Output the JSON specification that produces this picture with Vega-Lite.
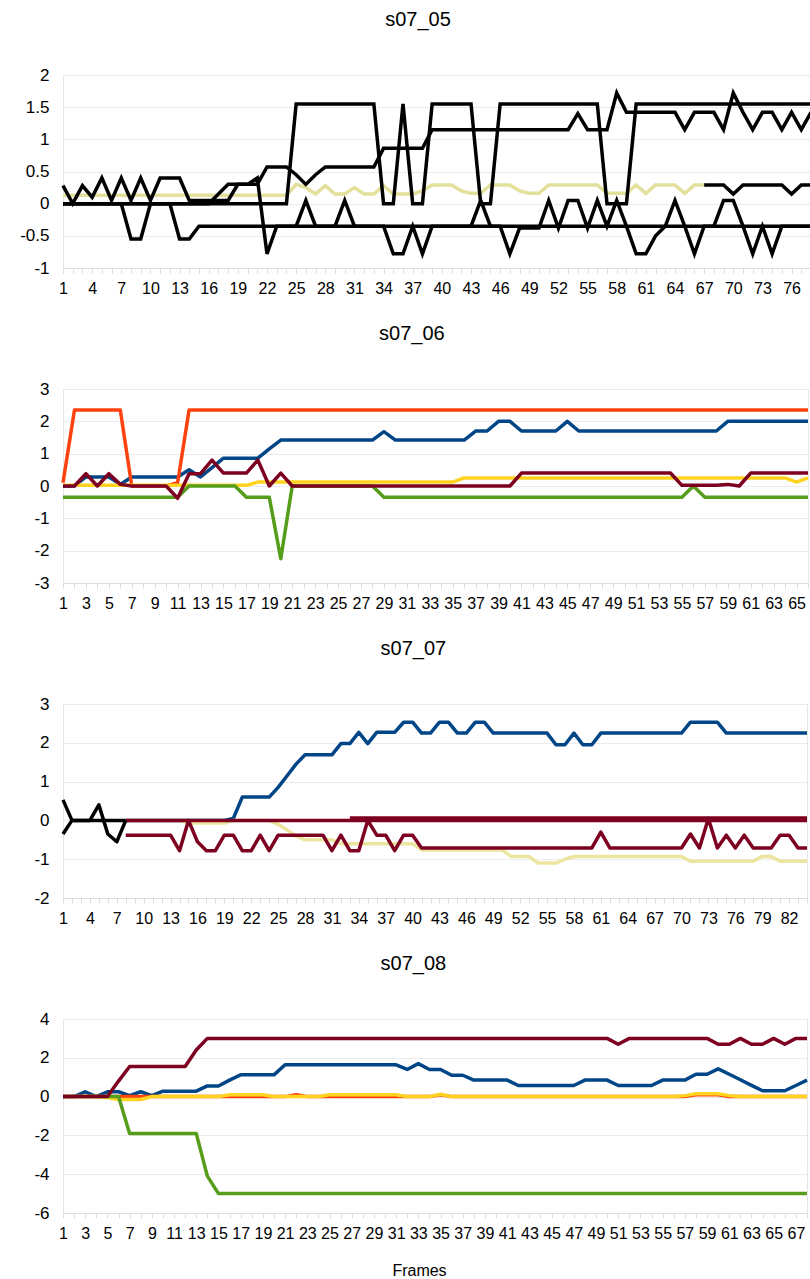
{
  "$schema": "https://vega.github.io/schema/vega-lite/v6.json",
  "background": "white",
  "padding": {"left": 13, "top": 9, "right": 2, "bottom": 4},
  "spacing": 26,
  "resolve": {"scale": {"x": "independent", "y": "independent", "color": "independent"}},
  "config": {
    "font": "Liberation Sans",
    "view": {"stroke": "#e6e6e6"},
    "title": {"fontSize": 20, "fontWeight": "normal", "color": "#000000", "offset": 36, "frame": "bounds", "anchor": "middle"},
    "axisX": {"grid": false, "tickSize": 5, "tickColor": "#dddddd", "domainColor": "#dddddd", "labelFontSize": 16, "labelPadding": 7, "labelOverlap": false, "labelFlush": false, "labelBound": false, "labelColor": "#000000"},
    "axisY": {"grid": true, "gridColor": "#ebebeb", "ticks": false, "domain": false, "labelFontSize": 17, "labelPadding": 14, "labelColor": "#000000", "minExtent": 45, "maxExtent": 45, "title": null}
  },
  "datasets": {
    "p1": [
      {"f":1,"a":0,"b":0,"c":0.28,"d":0,"y":0.13,"k":null},
      {"f":2,"a":0,"b":0,"c":0,"d":0,"y":0.13,"k":null},
      {"f":3,"a":0,"b":0,"c":0.28,"d":0,"y":0.13,"k":null},
      {"f":4,"a":0,"b":0,"c":0.1,"d":0,"y":0.13,"k":null},
      {"f":5,"a":0,"b":0,"c":0.4,"d":0,"y":0.13,"k":null},
      {"f":6,"a":0,"b":0,"c":0.05,"d":0,"y":0.13,"k":null},
      {"f":7,"a":0,"b":0,"c":0.4,"d":0,"y":0.13,"k":null},
      {"f":8,"a":0,"b":0,"c":0.05,"d":-0.55,"y":0.13,"k":null},
      {"f":9,"a":0,"b":0,"c":0.4,"d":-0.55,"y":0.13,"k":null},
      {"f":10,"a":0,"b":0,"c":0.05,"d":0,"y":0.13,"k":null},
      {"f":11,"a":0,"b":0,"c":0.4,"d":0,"y":0.13,"k":null},
      {"f":12,"a":0,"b":0,"c":0.4,"d":0,"y":0.13,"k":null},
      {"f":13,"a":0,"b":0,"c":0.4,"d":-0.55,"y":0.13,"k":null},
      {"f":14,"a":0,"b":0,"c":0.05,"d":-0.55,"y":0.13,"k":null},
      {"f":15,"a":0,"b":0,"c":0.05,"d":-0.35,"y":0.13,"k":null},
      {"f":16,"a":0,"b":0,"c":0.05,"d":-0.35,"y":0.13,"k":null},
      {"f":17,"a":0,"b":0.15,"c":0.05,"d":-0.35,"y":0.13,"k":null},
      {"f":18,"a":0,"b":0.3,"c":0.05,"d":-0.35,"y":0.13,"k":null},
      {"f":19,"a":0,"b":0.3,"c":0.3,"d":-0.35,"y":0.13,"k":null},
      {"f":20,"a":0,"b":0.3,"c":0.3,"d":-0.35,"y":0.13,"k":null},
      {"f":21,"a":0,"b":0.3,"c":0.4,"d":-0.35,"y":0.13,"k":null},
      {"f":22,"a":0,"b":0.57,"c":-0.78,"d":-0.35,"y":0.13,"k":null},
      {"f":23,"a":0,"b":0.57,"c":-0.35,"d":-0.35,"y":0.13,"k":null},
      {"f":24,"a":0,"b":0.57,"c":-0.35,"d":-0.35,"y":0.13,"k":null},
      {"f":25,"a":1.55,"b":0.45,"c":-0.35,"d":-0.35,"y":0.3,"k":null},
      {"f":26,"a":1.55,"b":0.3,"c":0.05,"d":-0.35,"y":0.25,"k":null},
      {"f":27,"a":1.55,"b":0.45,"c":-0.35,"d":-0.35,"y":0.15,"k":null},
      {"f":28,"a":1.55,"b":0.57,"c":-0.35,"d":-0.35,"y":0.28,"k":null},
      {"f":29,"a":1.55,"b":0.57,"c":-0.35,"d":-0.35,"y":0.15,"k":null},
      {"f":30,"a":1.55,"b":0.57,"c":0.05,"d":-0.35,"y":0.15,"k":null},
      {"f":31,"a":1.55,"b":0.57,"c":-0.35,"d":-0.35,"y":0.25,"k":null},
      {"f":32,"a":1.55,"b":0.57,"c":-0.35,"d":-0.35,"y":0.15,"k":null},
      {"f":33,"a":1.55,"b":0.57,"c":-0.35,"d":-0.35,"y":0.15,"k":null},
      {"f":34,"a":0,"b":0.86,"c":-0.35,"d":-0.35,"y":0.28,"k":null},
      {"f":35,"a":0,"b":0.86,"c":-0.78,"d":-0.35,"y":0.15,"k":null},
      {"f":36,"a":1.55,"b":0.86,"c":-0.78,"d":-0.35,"y":0.15,"k":null},
      {"f":37,"a":0,"b":0.86,"c":-0.35,"d":-0.35,"y":0.15,"k":null},
      {"f":38,"a":0,"b":0.86,"c":-0.78,"d":-0.35,"y":0.2,"k":null},
      {"f":39,"a":1.55,"b":1.15,"c":-0.35,"d":-0.35,"y":0.29,"k":null},
      {"f":40,"a":1.55,"b":1.15,"c":-0.35,"d":-0.35,"y":0.29,"k":null},
      {"f":41,"a":1.55,"b":1.15,"c":-0.35,"d":-0.35,"y":0.29,"k":null},
      {"f":42,"a":1.55,"b":1.15,"c":-0.35,"d":-0.35,"y":0.2,"k":null},
      {"f":43,"a":1.55,"b":1.15,"c":-0.35,"d":-0.35,"y":0.16,"k":null},
      {"f":44,"a":0,"b":1.15,"c":0.05,"d":-0.35,"y":0.16,"k":null},
      {"f":45,"a":0,"b":1.15,"c":-0.35,"d":-0.35,"y":0.29,"k":null},
      {"f":46,"a":1.55,"b":1.15,"c":-0.35,"d":-0.35,"y":0.29,"k":null},
      {"f":47,"a":1.55,"b":1.15,"c":-0.78,"d":-0.35,"y":0.29,"k":null},
      {"f":48,"a":1.55,"b":1.15,"c":-0.38,"d":-0.35,"y":0.2,"k":null},
      {"f":49,"a":1.55,"b":1.15,"c":-0.38,"d":-0.35,"y":0.16,"k":null},
      {"f":50,"a":1.55,"b":1.15,"c":-0.38,"d":-0.35,"y":0.16,"k":null},
      {"f":51,"a":1.55,"b":1.15,"c":0.05,"d":-0.35,"y":0.29,"k":null},
      {"f":52,"a":1.55,"b":1.15,"c":-0.38,"d":-0.35,"y":0.29,"k":null},
      {"f":53,"a":1.55,"b":1.15,"c":0.05,"d":-0.35,"y":0.29,"k":null},
      {"f":54,"a":1.55,"b":1.4,"c":0.05,"d":-0.35,"y":0.29,"k":null},
      {"f":55,"a":1.55,"b":1.15,"c":-0.38,"d":-0.35,"y":0.29,"k":null},
      {"f":56,"a":1.55,"b":1.15,"c":0.05,"d":-0.35,"y":0.29,"k":null},
      {"f":57,"a":0,"b":1.15,"c":-0.35,"d":-0.35,"y":0.16,"k":null},
      {"f":58,"a":0,"b":1.72,"c":0.05,"d":-0.35,"y":0.16,"k":null},
      {"f":59,"a":0,"b":1.42,"c":-0.35,"d":-0.35,"y":0.16,"k":null},
      {"f":60,"a":1.55,"b":1.42,"c":-0.78,"d":-0.35,"y":0.29,"k":null},
      {"f":61,"a":1.55,"b":1.42,"c":-0.78,"d":-0.35,"y":0.16,"k":null},
      {"f":62,"a":1.55,"b":1.42,"c":-0.5,"d":-0.35,"y":0.29,"k":null},
      {"f":63,"a":1.55,"b":1.42,"c":-0.35,"d":-0.35,"y":0.29,"k":null},
      {"f":64,"a":1.55,"b":1.42,"c":0.05,"d":-0.35,"y":0.29,"k":null},
      {"f":65,"a":1.55,"b":1.15,"c":-0.35,"d":-0.35,"y":0.16,"k":null},
      {"f":66,"a":1.55,"b":1.42,"c":-0.78,"d":-0.35,"y":0.29,"k":null},
      {"f":67,"a":1.55,"b":1.42,"c":-0.35,"d":-0.35,"y":0.29,"k":0.29},
      {"f":68,"a":1.55,"b":1.42,"c":-0.35,"d":-0.35,"y":null,"k":0.29},
      {"f":69,"a":1.55,"b":1.15,"c":0.05,"d":-0.35,"y":null,"k":0.29},
      {"f":70,"a":1.55,"b":1.72,"c":0.05,"d":-0.35,"y":null,"k":0.15},
      {"f":71,"a":1.55,"b":1.42,"c":-0.35,"d":-0.35,"y":null,"k":0.29},
      {"f":72,"a":1.55,"b":1.15,"c":-0.78,"d":-0.35,"y":null,"k":0.29},
      {"f":73,"a":1.55,"b":1.42,"c":-0.35,"d":-0.35,"y":null,"k":0.29},
      {"f":74,"a":1.55,"b":1.42,"c":-0.78,"d":-0.35,"y":null,"k":0.29},
      {"f":75,"a":1.55,"b":1.15,"c":-0.35,"d":-0.35,"y":null,"k":0.29},
      {"f":76,"a":1.55,"b":1.42,"c":-0.35,"d":-0.35,"y":null,"k":0.15},
      {"f":77,"a":1.55,"b":1.15,"c":-0.35,"d":-0.35,"y":null,"k":0.29},
      {"f":78,"a":1.55,"b":1.42,"c":-0.35,"d":-0.35,"y":null,"k":0.29}
    ],
    "p2": [
      {"f":1,"a":0,"b":0.1,"c":0.02,"d":-0.35,"e":0},
      {"f":2,"a":0,"b":2.35,"c":0.02,"d":-0.35,"e":0},
      {"f":3,"a":0.28,"b":2.35,"c":0.02,"d":-0.35,"e":0.38},
      {"f":4,"a":0.28,"b":2.35,"c":0.02,"d":-0.35,"e":0},
      {"f":5,"a":0.28,"b":2.35,"c":0.02,"d":-0.35,"e":0.38},
      {"f":6,"a":0.05,"b":2.35,"c":0.02,"d":-0.35,"e":0.05},
      {"f":7,"a":0.28,"b":0,"c":0.02,"d":-0.35,"e":0},
      {"f":8,"a":0.28,"b":0,"c":0.02,"d":-0.35,"e":0},
      {"f":9,"a":0.28,"b":0,"c":0.02,"d":-0.35,"e":0},
      {"f":10,"a":0.28,"b":0,"c":0.02,"d":-0.35,"e":0},
      {"f":11,"a":0.28,"b":0.1,"c":0.02,"d":-0.35,"e":-0.38},
      {"f":12,"a":0.5,"b":2.35,"c":0.02,"d":0,"e":0.38},
      {"f":13,"a":0.28,"b":2.35,"c":0.02,"d":0,"e":0.38},
      {"f":14,"a":0.57,"b":2.35,"c":0.02,"d":0,"e":0.8},
      {"f":15,"a":0.86,"b":2.35,"c":0.02,"d":0,"e":0.4},
      {"f":16,"a":0.86,"b":2.35,"c":0.02,"d":0,"e":0.4},
      {"f":17,"a":0.86,"b":2.35,"c":0.02,"d":-0.35,"e":0.4},
      {"f":18,"a":0.86,"b":2.35,"c":0.12,"d":-0.35,"e":0.8},
      {"f":19,"a":1.15,"b":2.35,"c":0.12,"d":-0.35,"e":0},
      {"f":20,"a":1.42,"b":2.35,"c":0.12,"d":-2.25,"e":0.4},
      {"f":21,"a":1.42,"b":2.35,"c":0.12,"d":0,"e":0},
      {"f":22,"a":1.42,"b":2.35,"c":0.12,"d":0,"e":0},
      {"f":23,"a":1.42,"b":2.35,"c":0.12,"d":0,"e":0},
      {"f":24,"a":1.42,"b":2.35,"c":0.12,"d":0,"e":0},
      {"f":25,"a":1.42,"b":2.35,"c":0.12,"d":0,"e":0},
      {"f":26,"a":1.42,"b":2.35,"c":0.12,"d":0,"e":0},
      {"f":27,"a":1.42,"b":2.35,"c":0.12,"d":0,"e":0},
      {"f":28,"a":1.42,"b":2.35,"c":0.12,"d":0,"e":0},
      {"f":29,"a":1.68,"b":2.35,"c":0.12,"d":-0.35,"e":0},
      {"f":30,"a":1.42,"b":2.35,"c":0.12,"d":-0.35,"e":0},
      {"f":31,"a":1.42,"b":2.35,"c":0.12,"d":-0.35,"e":0},
      {"f":32,"a":1.42,"b":2.35,"c":0.12,"d":-0.35,"e":0},
      {"f":33,"a":1.42,"b":2.35,"c":0.12,"d":-0.35,"e":0},
      {"f":34,"a":1.42,"b":2.35,"c":0.12,"d":-0.35,"e":0},
      {"f":35,"a":1.42,"b":2.35,"c":0.12,"d":-0.35,"e":0},
      {"f":36,"a":1.42,"b":2.35,"c":0.25,"d":-0.35,"e":0},
      {"f":37,"a":1.7,"b":2.35,"c":0.25,"d":-0.35,"e":0},
      {"f":38,"a":1.7,"b":2.35,"c":0.25,"d":-0.35,"e":0},
      {"f":39,"a":2.0,"b":2.35,"c":0.25,"d":-0.35,"e":0},
      {"f":40,"a":2.0,"b":2.35,"c":0.25,"d":-0.35,"e":0},
      {"f":41,"a":1.7,"b":2.35,"c":0.25,"d":-0.35,"e":0.4},
      {"f":42,"a":1.7,"b":2.35,"c":0.25,"d":-0.35,"e":0.4},
      {"f":43,"a":1.7,"b":2.35,"c":0.25,"d":-0.35,"e":0.4},
      {"f":44,"a":1.7,"b":2.35,"c":0.25,"d":-0.35,"e":0.4},
      {"f":45,"a":2.0,"b":2.35,"c":0.25,"d":-0.35,"e":0.4},
      {"f":46,"a":1.7,"b":2.35,"c":0.25,"d":-0.35,"e":0.4},
      {"f":47,"a":1.7,"b":2.35,"c":0.25,"d":-0.35,"e":0.4},
      {"f":48,"a":1.7,"b":2.35,"c":0.25,"d":-0.35,"e":0.4},
      {"f":49,"a":1.7,"b":2.35,"c":0.25,"d":-0.35,"e":0.4},
      {"f":50,"a":1.7,"b":2.35,"c":0.25,"d":-0.35,"e":0.4},
      {"f":51,"a":1.7,"b":2.35,"c":0.25,"d":-0.35,"e":0.4},
      {"f":52,"a":1.7,"b":2.35,"c":0.25,"d":-0.35,"e":0.4},
      {"f":53,"a":1.7,"b":2.35,"c":0.25,"d":-0.35,"e":0.4},
      {"f":54,"a":1.7,"b":2.35,"c":0.25,"d":-0.35,"e":0.4},
      {"f":55,"a":1.7,"b":2.35,"c":0.25,"d":-0.35,"e":0.02},
      {"f":56,"a":1.7,"b":2.35,"c":0.25,"d":0,"e":0.02},
      {"f":57,"a":1.7,"b":2.35,"c":0.25,"d":-0.35,"e":0.02},
      {"f":58,"a":1.7,"b":2.35,"c":0.25,"d":-0.35,"e":0.02},
      {"f":59,"a":2.0,"b":2.35,"c":0.25,"d":-0.35,"e":0.05},
      {"f":60,"a":2.0,"b":2.35,"c":0.25,"d":-0.35,"e":0},
      {"f":61,"a":2.0,"b":2.35,"c":0.25,"d":-0.35,"e":0.4},
      {"f":62,"a":2.0,"b":2.35,"c":0.25,"d":-0.35,"e":0.4},
      {"f":63,"a":2.0,"b":2.35,"c":0.25,"d":-0.35,"e":0.4},
      {"f":64,"a":2.0,"b":2.35,"c":0.25,"d":-0.35,"e":0.4},
      {"f":65,"a":2.0,"b":2.35,"c":0.12,"d":-0.35,"e":0.4},
      {"f":66,"a":2.0,"b":2.35,"c":0.25,"d":-0.35,"e":0.4}
    ],
    "p3": [
      {"f":1,"k1":0.53,"k2":-0.35,"a":null,"c":null,"e":null,"g":null,"h":null},
      {"f":2,"k1":0,"k2":0,"a":null,"c":null,"e":null,"g":null,"h":null},
      {"f":3,"k1":0,"k2":0,"a":null,"c":null,"e":null,"g":null,"h":null},
      {"f":4,"k1":0,"k2":0,"a":null,"c":null,"e":null,"g":null,"h":null},
      {"f":5,"k1":0.4,"k2":0,"a":null,"c":null,"e":null,"g":null,"h":null},
      {"f":6,"k1":-0.35,"k2":0,"a":null,"c":null,"e":null,"g":null,"h":null},
      {"f":7,"k1":-0.55,"k2":0,"a":null,"c":null,"e":null,"g":null,"h":null},
      {"f":8,"k1":0,"k2":0,"a":0,"c":0,"e":0,"g":null,"h":-0.38},
      {"f":9,"k1":null,"k2":null,"a":0,"c":0,"e":0,"g":null,"h":-0.38},
      {"f":10,"k1":null,"k2":null,"a":0,"c":0,"e":0,"g":null,"h":-0.38},
      {"f":11,"k1":null,"k2":null,"a":0,"c":0,"e":0,"g":null,"h":-0.38},
      {"f":12,"k1":null,"k2":null,"a":0,"c":0,"e":0,"g":null,"h":-0.38},
      {"f":13,"k1":null,"k2":null,"a":0,"c":0,"e":0,"g":null,"h":-0.38},
      {"f":14,"k1":null,"k2":null,"a":0,"c":0,"e":0,"g":null,"h":-0.78},
      {"f":15,"k1":null,"k2":null,"a":0,"c":-0.07,"e":0,"g":null,"h":0},
      {"f":16,"k1":null,"k2":null,"a":0,"c":-0.07,"e":0,"g":null,"h":-0.55},
      {"f":17,"k1":null,"k2":null,"a":0,"c":-0.07,"e":0,"g":null,"h":-0.78},
      {"f":18,"k1":null,"k2":null,"a":0,"c":-0.07,"e":0,"g":null,"h":-0.78},
      {"f":19,"k1":null,"k2":null,"a":0,"c":-0.07,"e":0,"g":null,"h":-0.38},
      {"f":20,"k1":null,"k2":null,"a":0.05,"c":0,"e":0,"g":null,"h":-0.38},
      {"f":21,"k1":null,"k2":null,"a":0.6,"c":0,"e":0,"g":null,"h":-0.78},
      {"f":22,"k1":null,"k2":null,"a":0.6,"c":0,"e":0,"g":null,"h":-0.78},
      {"f":23,"k1":null,"k2":null,"a":0.6,"c":0,"e":0,"g":null,"h":-0.38},
      {"f":24,"k1":null,"k2":null,"a":0.6,"c":0,"e":0,"g":null,"h":-0.78},
      {"f":25,"k1":null,"k2":null,"a":0.85,"c":-0.1,"e":0,"g":null,"h":-0.38},
      {"f":26,"k1":null,"k2":null,"a":1.15,"c":-0.25,"e":0,"g":null,"h":-0.38},
      {"f":27,"k1":null,"k2":null,"a":1.45,"c":-0.4,"e":0,"g":null,"h":-0.38},
      {"f":28,"k1":null,"k2":null,"a":1.69,"c":-0.5,"e":0,"g":null,"h":-0.38},
      {"f":29,"k1":null,"k2":null,"a":1.69,"c":-0.5,"e":0,"g":null,"h":-0.38},
      {"f":30,"k1":null,"k2":null,"a":1.69,"c":-0.5,"e":0,"g":null,"h":-0.38},
      {"f":31,"k1":null,"k2":null,"a":1.69,"c":-0.5,"e":0,"g":null,"h":-0.78},
      {"f":32,"k1":null,"k2":null,"a":1.98,"c":-0.6,"e":0,"g":null,"h":-0.38},
      {"f":33,"k1":null,"k2":null,"a":1.98,"c":-0.6,"e":0,"g":0.06,"h":-0.78},
      {"f":34,"k1":null,"k2":null,"a":2.27,"c":-0.6,"e":0,"g":0.06,"h":-0.78},
      {"f":35,"k1":null,"k2":null,"a":1.98,"c":-0.6,"e":0,"g":0.06,"h":0},
      {"f":36,"k1":null,"k2":null,"a":2.27,"c":-0.6,"e":0,"g":0.06,"h":-0.38},
      {"f":37,"k1":null,"k2":null,"a":2.27,"c":-0.6,"e":0,"g":0.06,"h":-0.38},
      {"f":38,"k1":null,"k2":null,"a":2.27,"c":-0.6,"e":0,"g":0.06,"h":-0.78},
      {"f":39,"k1":null,"k2":null,"a":2.53,"c":-0.6,"e":0,"g":0.06,"h":-0.38},
      {"f":40,"k1":null,"k2":null,"a":2.53,"c":-0.6,"e":0,"g":0.06,"h":-0.38},
      {"f":41,"k1":null,"k2":null,"a":2.25,"c":-0.76,"e":0,"g":0.06,"h":-0.71},
      {"f":42,"k1":null,"k2":null,"a":2.25,"c":-0.76,"e":0,"g":0.06,"h":-0.71},
      {"f":43,"k1":null,"k2":null,"a":2.53,"c":-0.76,"e":0,"g":0.06,"h":-0.71},
      {"f":44,"k1":null,"k2":null,"a":2.53,"c":-0.76,"e":0,"g":0.06,"h":-0.71},
      {"f":45,"k1":null,"k2":null,"a":2.25,"c":-0.76,"e":0,"g":0.06,"h":-0.71},
      {"f":46,"k1":null,"k2":null,"a":2.25,"c":-0.76,"e":0,"g":0.06,"h":-0.71},
      {"f":47,"k1":null,"k2":null,"a":2.53,"c":-0.76,"e":0,"g":0.06,"h":-0.71},
      {"f":48,"k1":null,"k2":null,"a":2.53,"c":-0.76,"e":0,"g":0.06,"h":-0.71},
      {"f":49,"k1":null,"k2":null,"a":2.25,"c":-0.76,"e":0,"g":0.06,"h":-0.71},
      {"f":50,"k1":null,"k2":null,"a":2.25,"c":-0.76,"e":0,"g":0.06,"h":-0.71},
      {"f":51,"k1":null,"k2":null,"a":2.25,"c":-0.93,"e":0,"g":0.06,"h":-0.71},
      {"f":52,"k1":null,"k2":null,"a":2.25,"c":-0.93,"e":0,"g":0.06,"h":-0.71},
      {"f":53,"k1":null,"k2":null,"a":2.25,"c":-0.93,"e":0,"g":0.06,"h":-0.71},
      {"f":54,"k1":null,"k2":null,"a":2.25,"c":-1.1,"e":0,"g":0.06,"h":-0.71},
      {"f":55,"k1":null,"k2":null,"a":2.25,"c":-1.1,"e":0,"g":0.06,"h":-0.71},
      {"f":56,"k1":null,"k2":null,"a":1.95,"c":-1.1,"e":0,"g":0.06,"h":-0.71},
      {"f":57,"k1":null,"k2":null,"a":1.95,"c":-1.0,"e":0,"g":0.06,"h":-0.71},
      {"f":58,"k1":null,"k2":null,"a":2.25,"c":-0.93,"e":0,"g":0.06,"h":-0.71},
      {"f":59,"k1":null,"k2":null,"a":1.95,"c":-0.93,"e":0,"g":0.06,"h":-0.71},
      {"f":60,"k1":null,"k2":null,"a":1.95,"c":-0.93,"e":0,"g":0.06,"h":-0.71},
      {"f":61,"k1":null,"k2":null,"a":2.25,"c":-0.93,"e":0,"g":0.06,"h":-0.3},
      {"f":62,"k1":null,"k2":null,"a":2.25,"c":-0.93,"e":0,"g":0.06,"h":-0.71},
      {"f":63,"k1":null,"k2":null,"a":2.25,"c":-0.93,"e":0,"g":0.06,"h":-0.71},
      {"f":64,"k1":null,"k2":null,"a":2.25,"c":-0.93,"e":0,"g":0.06,"h":-0.71},
      {"f":65,"k1":null,"k2":null,"a":2.25,"c":-0.93,"e":0,"g":0.06,"h":-0.71},
      {"f":66,"k1":null,"k2":null,"a":2.25,"c":-0.93,"e":0,"g":0.06,"h":-0.71},
      {"f":67,"k1":null,"k2":null,"a":2.25,"c":-0.93,"e":0,"g":0.06,"h":-0.71},
      {"f":68,"k1":null,"k2":null,"a":2.25,"c":-0.93,"e":0,"g":0.06,"h":-0.71},
      {"f":69,"k1":null,"k2":null,"a":2.25,"c":-0.93,"e":0,"g":0.06,"h":-0.71},
      {"f":70,"k1":null,"k2":null,"a":2.25,"c":-0.93,"e":0,"g":0.06,"h":-0.71},
      {"f":71,"k1":null,"k2":null,"a":2.53,"c":-1.05,"e":0,"g":0.06,"h":-0.35},
      {"f":72,"k1":null,"k2":null,"a":2.53,"c":-1.05,"e":0,"g":0.06,"h":-0.71},
      {"f":73,"k1":null,"k2":null,"a":2.53,"c":-1.05,"e":0,"g":0.06,"h":0.05},
      {"f":74,"k1":null,"k2":null,"a":2.53,"c":-1.05,"e":0,"g":0.06,"h":-0.71},
      {"f":75,"k1":null,"k2":null,"a":2.25,"c":-1.05,"e":0,"g":0.06,"h":-0.38},
      {"f":76,"k1":null,"k2":null,"a":2.25,"c":-1.05,"e":0,"g":0.06,"h":-0.71},
      {"f":77,"k1":null,"k2":null,"a":2.25,"c":-1.05,"e":0,"g":0.06,"h":-0.38},
      {"f":78,"k1":null,"k2":null,"a":2.25,"c":-1.05,"e":0,"g":0.06,"h":-0.71},
      {"f":79,"k1":null,"k2":null,"a":2.25,"c":-0.93,"e":0,"g":0.06,"h":-0.71},
      {"f":80,"k1":null,"k2":null,"a":2.25,"c":-0.93,"e":0,"g":0.06,"h":-0.71},
      {"f":81,"k1":null,"k2":null,"a":2.25,"c":-1.05,"e":0,"g":0.06,"h":-0.38},
      {"f":82,"k1":null,"k2":null,"a":2.25,"c":-1.05,"e":0,"g":0.06,"h":-0.38},
      {"f":83,"k1":null,"k2":null,"a":2.25,"c":-1.05,"e":0,"g":0.06,"h":-0.71},
      {"f":84,"k1":null,"k2":null,"a":2.25,"c":-1.05,"e":0,"g":0.06,"h":-0.71}
    ],
    "p4": [
      {"f":1,"a":0,"b":0,"c":0,"d":0,"e":0},
      {"f":2,"a":0,"b":0,"c":0,"d":0,"e":0},
      {"f":3,"a":0.25,"b":0,"c":0,"d":0,"e":0},
      {"f":4,"a":0,"b":0,"c":0,"d":0,"e":0},
      {"f":5,"a":0.25,"b":0,"c":-0.05,"d":0,"e":0},
      {"f":6,"a":0.25,"b":0,"c":-0.15,"d":0,"e":0.8},
      {"f":7,"a":0.05,"b":0,"c":-0.15,"d":-1.9,"e":1.55},
      {"f":8,"a":0.25,"b":0,"c":-0.15,"d":-1.9,"e":1.55},
      {"f":9,"a":0.05,"b":0,"c":0,"d":-1.9,"e":1.55},
      {"f":10,"a":0.28,"b":0,"c":0,"d":-1.9,"e":1.55},
      {"f":11,"a":0.28,"b":0,"c":0,"d":-1.9,"e":1.55},
      {"f":12,"a":0.28,"b":0,"c":0,"d":-1.9,"e":1.55},
      {"f":13,"a":0.28,"b":0,"c":0,"d":-1.9,"e":2.4},
      {"f":14,"a":0.55,"b":0,"c":0,"d":-4.1,"e":3},
      {"f":15,"a":0.55,"b":0,"c":0,"d":-5,"e":3},
      {"f":16,"a":0.85,"b":0,"c":0.1,"d":-5,"e":3},
      {"f":17,"a":1.12,"b":0,"c":0.1,"d":-5,"e":3},
      {"f":18,"a":1.12,"b":0,"c":0.1,"d":-5,"e":3},
      {"f":19,"a":1.12,"b":0,"c":0.1,"d":-5,"e":3},
      {"f":20,"a":1.12,"b":0,"c":0,"d":-5,"e":3},
      {"f":21,"a":1.64,"b":0,"c":0,"d":-5,"e":3},
      {"f":22,"a":1.64,"b":0.1,"c":0,"d":-5,"e":3},
      {"f":23,"a":1.64,"b":0,"c":0,"d":-5,"e":3},
      {"f":24,"a":1.64,"b":0,"c":0,"d":-5,"e":3},
      {"f":25,"a":1.64,"b":0,"c":0.1,"d":-5,"e":3},
      {"f":26,"a":1.64,"b":0,"c":0.1,"d":-5,"e":3},
      {"f":27,"a":1.64,"b":0,"c":0.1,"d":-5,"e":3},
      {"f":28,"a":1.64,"b":0,"c":0.1,"d":-5,"e":3},
      {"f":29,"a":1.64,"b":0,"c":0.1,"d":-5,"e":3},
      {"f":30,"a":1.64,"b":0,"c":0.1,"d":-5,"e":3},
      {"f":31,"a":1.64,"b":0,"c":0.1,"d":-5,"e":3},
      {"f":32,"a":1.4,"b":0,"c":0,"d":-5,"e":3},
      {"f":33,"a":1.7,"b":0,"c":0,"d":-5,"e":3},
      {"f":34,"a":1.4,"b":0,"c":0,"d":-5,"e":3},
      {"f":35,"a":1.4,"b":0.1,"c":0.12,"d":-5,"e":3},
      {"f":36,"a":1.1,"b":0,"c":0,"d":-5,"e":3},
      {"f":37,"a":1.1,"b":0,"c":0,"d":-5,"e":3},
      {"f":38,"a":0.85,"b":0,"c":0,"d":-5,"e":3},
      {"f":39,"a":0.85,"b":0,"c":0,"d":-5,"e":3},
      {"f":40,"a":0.85,"b":0,"c":0,"d":-5,"e":3},
      {"f":41,"a":0.85,"b":0,"c":0,"d":-5,"e":3},
      {"f":42,"a":0.57,"b":0,"c":0,"d":-5,"e":3},
      {"f":43,"a":0.57,"b":0,"c":0,"d":-5,"e":3},
      {"f":44,"a":0.57,"b":0,"c":0,"d":-5,"e":3},
      {"f":45,"a":0.57,"b":0,"c":0,"d":-5,"e":3},
      {"f":46,"a":0.57,"b":0,"c":0,"d":-5,"e":3},
      {"f":47,"a":0.57,"b":0,"c":0,"d":-5,"e":3},
      {"f":48,"a":0.85,"b":0,"c":0,"d":-5,"e":3},
      {"f":49,"a":0.85,"b":0,"c":0,"d":-5,"e":3},
      {"f":50,"a":0.85,"b":0,"c":0,"d":-5,"e":3},
      {"f":51,"a":0.57,"b":0,"c":0,"d":-5,"e":2.7},
      {"f":52,"a":0.57,"b":0,"c":0,"d":-5,"e":3},
      {"f":53,"a":0.57,"b":0,"c":0,"d":-5,"e":3},
      {"f":54,"a":0.57,"b":0,"c":0,"d":-5,"e":3},
      {"f":55,"a":0.85,"b":0,"c":0,"d":-5,"e":3},
      {"f":56,"a":0.85,"b":0,"c":0,"d":-5,"e":3},
      {"f":57,"a":0.85,"b":0,"c":0.05,"d":-5,"e":3},
      {"f":58,"a":1.15,"b":0.1,"c":0.15,"d":-5,"e":3},
      {"f":59,"a":1.15,"b":0.1,"c":0.15,"d":-5,"e":3},
      {"f":60,"a":1.43,"b":0.1,"c":0.15,"d":-5,"e":2.7},
      {"f":61,"a":1.15,"b":0,"c":0.05,"d":-5,"e":2.7},
      {"f":62,"a":0.87,"b":0,"c":0,"d":-5,"e":3},
      {"f":63,"a":0.58,"b":0,"c":0,"d":-5,"e":2.7},
      {"f":64,"a":0.3,"b":0,"c":0,"d":-5,"e":2.7},
      {"f":65,"a":0.3,"b":0,"c":0,"d":-5,"e":3},
      {"f":66,"a":0.3,"b":0,"c":0,"d":-5,"e":2.7},
      {"f":67,"a":0.57,"b":0,"c":0,"d":-5,"e":3},
      {"f":68,"a":0.85,"b":0,"c":0,"d":-5,"e":3}
    ]
  },
  "vconcat": [
    {
      "title": {"text": "s07_05"},
      "width": 748, "height": 193,
      "data": {"name": "p1"},
      "transform": [{"fold": ["y", "a", "b", "c", "d", "k"], "as": ["series", "value"]}],
      "mark": {"type": "line", "strokeWidth": 3.5},
      "encoding": {
        "x": {"field": "f", "type": "quantitative", "scale": {"domain": [1, 78], "nice": false, "zero": false},
          "axis": {"title": null, "values": [1,2,3,4,5,6,7,8,9,10,11,12,13,14,15,16,17,18,19,20,21,22,23,24,25,26,27,28,29,30,31,32,33,34,35,36,37,38,39,40,41,42,43,44,45,46,47,48,49,50,51,52,53,54,55,56,57,58,59,60,61,62,63,64,65,66,67,68,69,70,71,72,73,74,75,76,77,78],
            "labelExpr": "(datum.value - 1) % 3 == 0 ? datum.value + '' : ''"}},
        "y": {"field": "value", "type": "quantitative", "scale": {"domain": [-1, 2], "nice": false, "zero": false},
          "axis": {"values": [-1, -0.5, 0, 0.5, 1, 1.5, 2], "labelExpr": "datum.value + ''"}},
        "color": {"field": "series", "type": "nominal", "legend": null,
          "scale": {"domain": ["y", "a", "b", "c", "d", "k"], "range": ["#e3e09c", "#000000", "#000000", "#000000", "#000000", "#000000"]}}
      }
    },
    {
      "title": {"text": "s07_06"},
      "width": 745, "height": 194,
      "data": {"name": "p2"},
      "transform": [{"fold": ["a", "b", "c", "d", "e"], "as": ["series", "value"]}],
      "mark": {"type": "line", "strokeWidth": 3.5, "strokeJoin": "round"},
      "encoding": {
        "x": {"field": "f", "type": "quantitative", "scale": {"domain": [1, 66], "nice": false, "zero": false},
          "axis": {"title": null, "values": [1,2,3,4,5,6,7,8,9,10,11,12,13,14,15,16,17,18,19,20,21,22,23,24,25,26,27,28,29,30,31,32,33,34,35,36,37,38,39,40,41,42,43,44,45,46,47,48,49,50,51,52,53,54,55,56,57,58,59,60,61,62,63,64,65,66],
            "labelExpr": "(datum.value - 1) % 2 == 0 ? datum.value + '' : ''"}},
        "y": {"field": "value", "type": "quantitative", "scale": {"domain": [-3, 3], "nice": false, "zero": false},
          "axis": {"values": [-3, -2, -1, 0, 1, 2, 3], "labelExpr": "datum.value + ''", "minExtent": 49, "maxExtent": 49}},
        "color": {"field": "series", "type": "nominal", "legend": null,
          "scale": {"domain": ["a", "b", "c", "d", "e"], "range": ["#004586", "#ff420e", "#ffd320", "#579d1c", "#7e0021"]}}
      }
    },
    {
      "title": {"text": "s07_07"},
      "width": 744, "height": 194,
      "data": {"name": "p3"},
      "transform": [{"fold": ["a", "c", "e", "g", "h", "k1", "k2"], "as": ["series", "value"]}],
      "mark": {"type": "line", "strokeWidth": 3.5, "strokeJoin": "round"},
      "encoding": {
        "x": {"field": "f", "type": "quantitative", "scale": {"domain": [1, 84], "nice": false, "zero": false},
          "axis": {"title": null, "values": [1,2,3,4,5,6,7,8,9,10,11,12,13,14,15,16,17,18,19,20,21,22,23,24,25,26,27,28,29,30,31,32,33,34,35,36,37,38,39,40,41,42,43,44,45,46,47,48,49,50,51,52,53,54,55,56,57,58,59,60,61,62,63,64,65,66,67,68,69,70,71,72,73,74,75,76,77,78,79,80,81,82,83,84],
            "labelExpr": "(datum.value - 1) % 3 == 0 ? datum.value + '' : ''"}},
        "y": {"field": "value", "type": "quantitative", "scale": {"domain": [-2, 3], "nice": false, "zero": false},
          "axis": {"values": [-2, -1, 0, 1, 2, 3], "labelExpr": "datum.value + ''"}},
        "color": {"field": "series", "type": "nominal", "legend": null,
          "scale": {"domain": ["a", "c", "e", "g", "h", "k1", "k2"], "range": ["#004586", "#ebe5a0", "#7e0021", "#7e0021", "#7e0021", "#000000", "#000000"]}}
      }
    },
    {
      "title": {"text": "s07_08"},
      "width": 744, "height": 194,
      "data": {"name": "p4"},
      "transform": [{"fold": ["a", "b", "c", "d", "e"], "as": ["series", "value"]}],
      "mark": {"type": "line", "strokeWidth": 3.5, "strokeJoin": "round"},
      "encoding": {
        "x": {"field": "f", "type": "quantitative", "scale": {"domain": [1, 68], "nice": false, "zero": false},
          "axis": {"title": "Frames", "titleFontSize": 16, "titleFontWeight": "normal", "titlePadding": 21, "titleX": 356, "values": [1,2,3,4,5,6,7,8,9,10,11,12,13,14,15,16,17,18,19,20,21,22,23,24,25,26,27,28,29,30,31,32,33,34,35,36,37,38,39,40,41,42,43,44,45,46,47,48,49,50,51,52,53,54,55,56,57,58,59,60,61,62,63,64,65,66,67,68],
            "labelExpr": "(datum.value - 1) % 2 == 0 ? datum.value + '' : ''"}},
        "y": {"field": "value", "type": "quantitative", "scale": {"domain": [-6, 4], "nice": false, "zero": false},
          "axis": {"values": [-6, -4, -2, 0, 2, 4], "labelExpr": "datum.value + ''"}},
        "color": {"field": "series", "type": "nominal", "legend": null,
          "scale": {"domain": ["a", "b", "c", "d", "e"], "range": ["#004586", "#ff420e", "#ffd320", "#579d1c", "#7e0021"]}}
      }
    }
  ]
}
